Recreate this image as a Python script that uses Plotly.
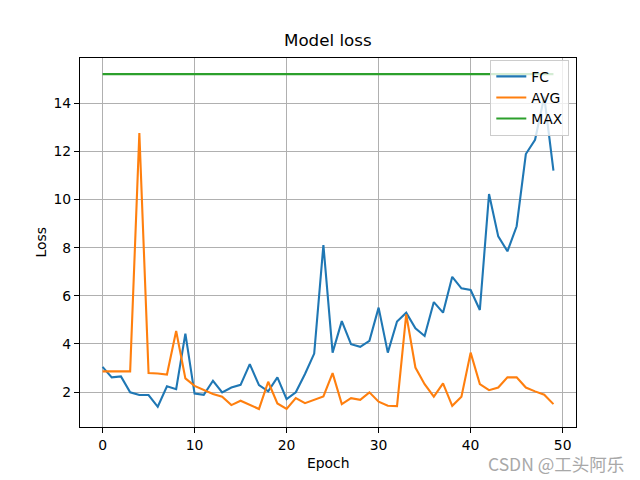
import plotly.graph_objects as go

epochs = list(range(50))
fc_loss = [3.05, 2.61, 2.65, 1.99, 1.88, 1.88, 1.39, 2.24, 2.12, 4.43,
           1.94, 1.89, 2.47, 1.99, 2.19, 2.30, 3.16, 2.29, 2.03, 2.61,
           1.71, 1.99, 2.75, 3.60, 8.11, 3.64, 4.95, 3.99, 3.88, 4.13,
           5.51, 3.64, 4.93, 5.30, 4.65, 4.33, 5.74, 5.30, 6.79, 6.31,
           6.24, 5.41, 10.23, 8.47, 7.85, 8.89, 11.89, 12.48, 14.27, 11.20]
avg_loss = [2.86, 2.86, 2.86, 2.86, 12.76, 2.79, 2.77, 2.73, 4.54, 2.57,
            2.26, 2.08, 1.92, 1.81, 1.46, 1.64, 1.46, 1.30, 2.43, 1.53,
            1.30, 1.75, 1.54, 1.68, 1.82, 2.79, 1.50, 1.75, 1.68, 1.99,
            1.60, 1.43, 1.42, 5.23, 3.02, 2.33, 1.81, 2.36, 1.43, 1.81,
            3.64, 2.33, 2.08, 2.19, 2.61, 2.61, 2.19, 2.03, 1.89, 1.50]
max_loss = [15.21] * 50
x_ticks = [0, 10, 20, 30, 40, 50]
y_ticks = [2, 4, 6, 8, 10, 12, 14]

font = "DejaVu Sans"
fig = go.Figure()
for name, ys, color in [("FC", fc_loss, "#1f77b4"), ("AVG", avg_loss, "#ff7f0e"),
                        ("MAX", max_loss, "#2ca02c")]:
    fig.add_trace(go.Scatter(x=epochs, y=ys, mode="lines", name=name,
                             line=dict(color=color, width=2.1)))

axis_common = dict(showgrid=True, gridcolor="#b0b0b0", gridwidth=1.1,
                   showline=True, linecolor="black", linewidth=1.1, mirror=True,
                   ticks="outside", ticklen=5, tickwidth=1.1, tickcolor="black",
                   zeroline=False, tickfont=dict(family=font, size=13.9, color="black"))

fig.update_layout(
    width=640, height=480,
    paper_bgcolor="white", plot_bgcolor="white",
    margin=dict(l=80, r=64, t=58, b=53),
    showlegend=True,
    legend=dict(x=0.9865, y=0.995, xanchor="right", yanchor="top",
                bgcolor="rgba(255,255,255,0.8)", bordercolor="#cccccc", borderwidth=1,
                font=dict(family=font, size=13.9, color="black"),
                itemwidth=30, tracegroupgap=0),
    xaxis=dict(range=[-2.45, 51.45], tickvals=x_ticks, **axis_common),
    yaxis=dict(range=[0.55, 15.88], tickvals=y_ticks, **axis_common),
    annotations=[
        dict(text="Model loss", xref="paper", yref="paper", x=0.5, y=1,
             xanchor="center", yanchor="bottom", yshift=6, showarrow=False,
             font=dict(family=font, size=16.7, color="black")),
        dict(text="Epoch", xref="paper", yref="paper", x=0.5, y=0,
             xanchor="center", yanchor="top", yshift=-26, showarrow=False,
             font=dict(family=font, size=13.9, color="black")),
        dict(text="Loss", xref="paper", yref="paper", x=0, y=0.5,
             xanchor="right", yanchor="middle", xshift=-30, textangle=-90,
             showarrow=False, font=dict(family=font, size=13.9, color="black")),
        dict(text="CSDN @工头阿乐", xref="paper", yref="paper", x=1, y=0,
             xanchor="right", yanchor="middle", xshift=50, yshift=-36,
             showarrow=False,
             font=dict(family="Noto Sans CJK SC", size=17.5, color="#a8a8a8")),
    ],
)

fig.write_html("out.html", config={"displayModeBar": False},
               post_script="document.body.style.margin='0';")
